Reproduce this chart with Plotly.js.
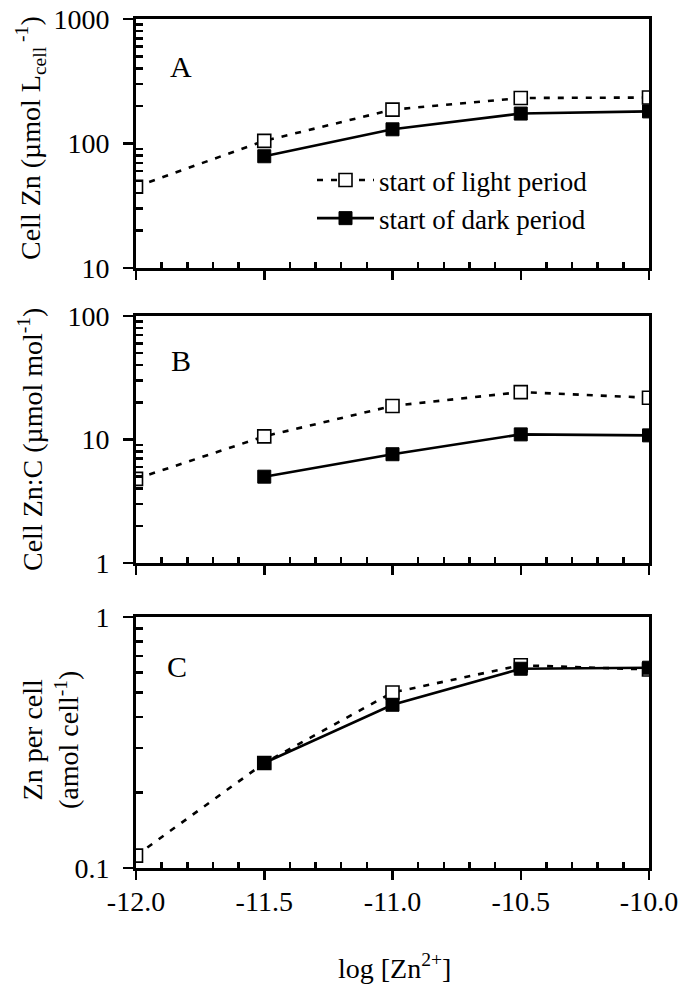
<!DOCTYPE html>
<html>
<head>
<meta charset="utf-8">
<script src="https://cdn.plot.ly/plotly-3.0.1.min.js"></script>
<style>
  html, body { margin: 0; padding: 0; background: #fff; }
  #chart { width: 682px; height: 997px; }
</style>
</head>
<body>
<div id="chart"></div>
<script>
// log free Zn2+ concentration (x axis shared by all panels)
const logZn = [-12.0, -11.5, -11.0, -10.5, -10.0];
const logZnDark = [-11.5, -11.0, -10.5, -10.0];

// Panel A: cellular Zn (umol per litre cell volume)
const cellZnLight = [45, 105, 187, 232, 234];
const cellZnDark = [79, 130, 174, 181];

// Panel B: Zn:C ratio (umol per mol)
const znCLight = [4.8, 10.6, 18.7, 24.2, 21.8];
const znCDark = [5.0, 7.6, 11.0, 10.8];

// Panel C: Zn per cell (amol per cell)
const znCellLight = [0.112, 0.262, 0.50, 0.642, 0.618];
const znCellDark = [0.262, 0.447, 0.622, 0.628];

const seriesNames = ['start of light period', 'start of dark period'];

// tick positions and labels
const xTickVals = [-12.0, -11.5, -11.0, -10.5, -10.0];
const xTickText = ['-12.0', '-11.5', '-11.0', '-10.5', '-10.0'];
const xMinorVals = [-11.9, -11.8, -11.7, -11.6, -11.4, -11.3, -11.2, -11.1,
                    -10.9, -10.8, -10.7, -10.6, -10.4, -10.3, -10.2, -10.1];
const yMinorA = [20, 30, 40, 50, 60, 70, 80, 90, 200, 300, 400, 500, 600, 700, 800, 900];
const yMinorB = [2, 3, 4, 5, 6, 7, 8, 9, 20, 30, 40, 50, 60, 70, 80, 90];
const yMinorC = [0.2, 0.3, 0.4, 0.5, 0.6, 0.7, 0.8, 0.9];
const yTickA = [10, 100, 1000], yTickB = [1, 10, 100], yTickC = [0.1, 1];
const yTextA = ['10', '100', '1000'], yTextB = ['1', '10', '100'], yTextC = ['0.1', '1'];

const FONT = '"Liberation Serif", "Times New Roman", Times, serif';
const W = 682, H = 997;

const lightStyle = {
  mode: 'lines+markers',
  line: { color: '#000', width: 2.6, dash: '6px,8px' },
  marker: { symbol: 'square', size: 13, color: '#fff', line: { color: '#000', width: 1.6 } }
};
const darkStyle = {
  mode: 'lines+markers',
  line: { color: '#000', width: 2.6 },
  marker: { symbol: 'square', size: 13, color: '#000', line: { color: '#000', width: 1 } }
};

function pair(xa, ya, light, dark, legend) {
  return [
    Object.assign({ x: logZn, y: light, xaxis: xa, yaxis: ya, name: seriesNames[0], showlegend: legend }, lightStyle),
    Object.assign({ x: logZnDark, y: dark, xaxis: xa, yaxis: ya, name: seriesNames[1], showlegend: legend }, darkStyle)
  ];
}

const traces = [].concat(
  pair('x', 'y', cellZnLight, cellZnDark, true),
  pair('x2', 'y2', znCLight, znCDark, false),
  pair('x3', 'y3', znCellLight, znCellDark, false)
);

// pixel helpers for panel placement
const px = v => v / W;
const py = v => 1 - v / H;
const xDomain = [px(136), px(649)];

function xAxis(anchor, labels) {
  return {
    domain: xDomain, anchor: anchor, range: [-12.0, -10.0],
    showline: true, linecolor: '#000', linewidth: 3, mirror: true,
    showgrid: false, zeroline: false,
    tickmode: 'array', tickvals: xTickVals, ticktext: xTickText,
    ticks: 'outside', ticklen: 9, tickwidth: 2.5, tickcolor: '#000',
    showticklabels: labels, ticklabelstandoff: -3,
    tickfont: { family: FONT, size: 28, color: '#000' },
    minor: { tickmode: 'array', tickvals: xMinorVals, ticks: 'inside', ticklen: 6,
             tickwidth: 2.5, tickcolor: '#000', showgrid: false }
  };
}

function yAxis(anchor, dom, range, vals, text, minorVals) {
  return {
    domain: dom, anchor: anchor, type: 'log', range: range,
    showline: true, linecolor: '#000', linewidth: 3, mirror: true,
    showgrid: false, zeroline: false,
    tickmode: 'array', tickvals: vals, ticktext: text,
    ticks: 'outside', ticklen: 10, tickwidth: 2.5, tickcolor: '#000',
    ticklabelstandoff: 8,
    tickfont: { family: FONT, size: 28, color: '#000' },
    minor: { tickmode: 'array', tickvals: minorVals, ticks: 'inside', ticklen: 7,
             tickwidth: 2.5, tickcolor: '#000', showgrid: false }
  };
}

const titleFont = { family: FONT, size: 28, color: '#000' };
const letterFont = { family: FONT, size: 30, color: '#000' };

function note(text, x, y, extra) {
  return Object.assign({ text: text, xref: 'paper', yref: 'paper', x: px(x), y: py(y),
    xanchor: 'center', yanchor: 'middle', showarrow: false, font: titleFont }, extra || {});
}

const layout = {
  width: W, height: H,
  margin: { l: 0, r: 0, t: 0, b: 0 },
  paper_bgcolor: '#fff', plot_bgcolor: '#fff',
  font: { family: FONT, color: '#000' },
  xaxis: xAxis('y', false),
  xaxis2: xAxis('y2', false),
  xaxis3: xAxis('y3', true),
  yaxis: yAxis('x', [py(268), py(19)], [1, 3], yTickA, yTextA, yMinorA),
  yaxis2: yAxis('x2', [py(563), py(316)], [0, 2], yTickB, yTextB, yMinorB),
  yaxis3: yAxis('x3', [py(868), py(617)], [-1, 0], yTickC, yTextC, yMinorC),
  showlegend: true,
  legend: {
    x: px(312), y: py(156), xanchor: 'left', yanchor: 'top',
    bgcolor: 'rgba(0,0,0,0)', borderwidth: 0,
    font: { family: FONT, size: 27, color: '#000' },
    itemwidth: 57, tracegroupgap: 0
  },
  annotations: [
    note('A', 181, 66, { font: letterFont }),
    note('B', 181, 361, { font: letterFont }),
    note('C', 177, 666, { font: letterFont }),
    note('Cell Zn (µmol L<sub>cell</sub><sup> -1</sup>)', 30, 138, { textangle: -90 }),
    note('Cell Zn:C (µmol mol<sup>-1</sup>)', 30, 440, { textangle: -90 }),
    note('Zn per cell<br>(amol cell<sup>-1</sup>)', 50, 740, { textangle: -90 }),
    note('log [Zn<sup>2+</sup>]', 394, 966)
  ]
};

Plotly.newPlot('chart', traces, layout, { staticPlot: true, displayModeBar: false });
</script>
</body>
</html>
